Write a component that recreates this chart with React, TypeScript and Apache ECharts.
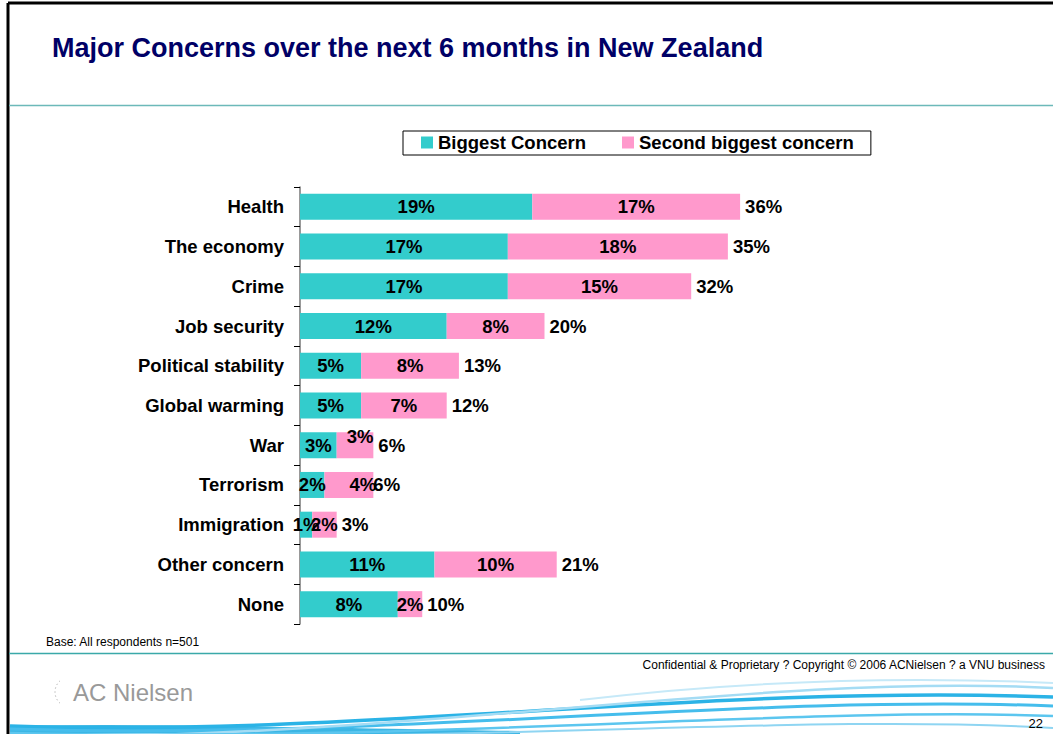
import React, { useEffect, useRef } from "react";
import * as echarts from "echarts";

const categories = [
  "Health",
  "The economy",
  "Crime",
  "Job security",
  "Political stability",
  "Global warming",
  "War",
  "Terrorism",
  "Immigration",
  "Other concern",
  "None",
];
const biggestConcern = [19, 17, 17, 12, 5, 5, 3, 2, 1, 11, 8];
const secondConcern = [17, 18, 15, 8, 8, 7, 3, 4, 2, 10, 2];
const seriesNames = ["Biggest Concern", "Second biggest concern"];

// label nudges reproducing the original's overlapping label placement
const secondLabelNudge: Record<number, number[]> = { 6: [5, -9], 7: [14, 0] };
const totalLabelNudge: Record<number, number[]> = { 7: [-5, 0] };

const FONT = "'Liberation Sans', Arial, sans-serif";

export default function App() {
  const ref = useRef<HTMLDivElement>(null);

  useEffect(() => {
    if (!ref.current) return;
    const chart = echarts.init(ref.current, null, { renderer: "svg" });
    const totals = biggestConcern.map((v, i) => v + secondConcern[i]);

    const labelBase = {
      show: true,
      fontFamily: FONT,
      fontSize: 18.5,
      fontWeight: "bold" as const,
      color: "#000",
    };

    const swoosh = (
      x1: number, y1: number, cx1: number, cy1: number,
      cx2: number, cy2: number, x2: number, y2: number,
      stroke: string, lineWidth: number
    ) => ({
      type: "bezierCurve",
      shape: { x1, y1, cpx1: cx1, cpy1: cy1, cpx2: cx2, cpy2: cy2, x2, y2 },
      style: { stroke, lineWidth, fill: null },
    });

    const option: any = {
      animation: false,
      backgroundColor: "#fff",
      textStyle: { fontFamily: FONT },
      legend: {
        data: seriesNames,
        left: 403,
        top: 131,
        orient: "horizontal",
        icon: "rect",
        itemWidth: 12,
        itemHeight: 12,
        itemGap: 36,
        padding: [2, 17, 3, 18],
        borderColor: "#000",
        borderWidth: 1,
        backgroundColor: "#fff",
        selectedMode: false,
        textStyle: {
          fontFamily: FONT,
          fontSize: 18.5,
          fontWeight: "bold",
          color: "#000",
          lineHeight: 18,
        },
      },
      grid: { left: 300, top: 187, width: 489, height: 437 },
      xAxis: {
        type: "value",
        min: 0,
        max: 40,
        show: false,
        splitLine: { show: false },
      },
      yAxis: {
        type: "category",
        inverse: true,
        data: categories,
        axisLine: { show: true, lineStyle: { color: "#777", width: 1.5 } },
        axisTick: { show: true, length: 6, lineStyle: { color: "#000", width: 1 } },
        axisLabel: {
          margin: 16,
          fontFamily: FONT,
          fontSize: 18.5,
          fontWeight: "bold",
          color: "#000",
        },
      },
      series: [
        {
          name: seriesNames[0],
          type: "bar",
          stack: "all",
          barWidth: 26,
          itemStyle: { color: "#33CCCC" },
          label: { ...labelBase, position: "inside", formatter: "{c}%" },
          data: biggestConcern,
        },
        {
          name: seriesNames[1],
          type: "bar",
          stack: "all",
          barWidth: 26,
          itemStyle: { color: "#FF99CC" },
          label: { ...labelBase, position: "inside", formatter: "{c}%" },
          data: secondConcern.map((v, i) =>
            secondLabelNudge[i]
              ? { value: v, label: { offset: secondLabelNudge[i] } }
              : v
          ),
        },
        {
          name: "Total",
          type: "bar",
          stack: "all",
          barWidth: 26,
          itemStyle: { color: "rgba(0,0,0,0)" },
          label: {
            ...labelBase,
            position: "right",
            distance: 5,
            formatter: (p: any) => totals[p.dataIndex] + "%",
          },
          data: totals.map((_, i) =>
            totalLabelNudge[i]
              ? { value: 0, label: { offset: totalLabelNudge[i] } }
              : 0
          ),
        },
      ],
      graphic: [
        // swooshes (drawn first so texts sit above)
        swoosh(10, 730, 150, 727, 330, 732, 520, 735, "#3cb6e4", 8),
        swoosh(10, 726, 360, 738, 700, 684, 1053, 697, "#2bb3e6", 3.5),
        swoosh(10, 729, 380, 741, 740, 694, 1053, 706, "#45bdec", 3),
        swoosh(120, 736, 480, 728, 780, 674, 1053, 688, "#a4dcf4", 2.5),
        swoosh(10, 733, 420, 743, 800, 706, 1053, 716, "#5cc6ef", 2.5),
        swoosh(300, 736, 600, 734, 850, 716, 1053, 728, "#8fd5f2", 2),
        swoosh(580, 700, 740, 681, 900, 676, 1053, 683, "#c6e9f8", 2),
        // frame
        { type: "line", shape: { x1: 8, y1: 3, x2: 1053, y2: 3 }, style: { stroke: "#000", lineWidth: 3 } },
        { type: "line", shape: { x1: 8, y1: 3, x2: 8, y2: 734 }, style: { stroke: "#000", lineWidth: 3 } },
        // teal rules
        { type: "line", shape: { x1: 9, y1: 105.5, x2: 1053, y2: 105.5 }, style: { stroke: "#6cb9b9", lineWidth: 1.5 } },
        { type: "line", shape: { x1: 9, y1: 653.5, x2: 1053, y2: 653.5 }, style: { stroke: "#3aa9a9", lineWidth: 1.5 } },
        // title
        {
          type: "text",
          x: 52,
          y: 48,
          style: {
            text: "Major Concerns over the next 6 months in New Zealand",
            fontFamily: FONT,
            fontSize: 27,
            fontWeight: "bold",
            fill: "#000066",
            verticalAlign: "middle",
            align: "left",
          },
        },
        // footnotes
        {
          type: "text",
          x: 46,
          y: 642,
          style: {
            text: "Base: All respondents n=501",
            fontFamily: FONT,
            fontSize: 12,
            fill: "#000",
            verticalAlign: "middle",
          },
        },
        {
          type: "text",
          x: 1045,
          y: 665,
          style: {
            text: "Confidential & Proprietary ? Copyright © 2006 ACNielsen ? a VNU business",
            fontFamily: FONT,
            fontSize: 12,
            fill: "#000",
            align: "right",
            verticalAlign: "middle",
          },
        },
        // page number
        {
          type: "text",
          x: 1043,
          y: 723,
          style: {
            text: "22",
            fontFamily: FONT,
            fontSize: 13,
            fill: "#000",
            align: "right",
            verticalAlign: "middle",
          },
        },
        // logo
        {
          type: "arc",
          shape: { cx: 70, cy: 692, r: 15, startAngle: 2.3, endAngle: 4.0 },
          style: { stroke: "#9a9a9a", lineWidth: 1, lineDash: [1, 3], fill: null },
        },
        {
          type: "text",
          x: 73,
          y: 692,
          style: {
            text: "AC Nielsen",
            fontFamily: FONT,
            fontSize: 24,
            fill: "#999999",
            verticalAlign: "middle",
          },
        },
      ],
    };

    chart.setOption(option);
    return () => chart.dispose();
  }, []);

  return (
    <div
      ref={ref}
      style={{ position: "absolute", left: 0, top: 0, width: 1053, height: 734 }}
    />
  );
}
